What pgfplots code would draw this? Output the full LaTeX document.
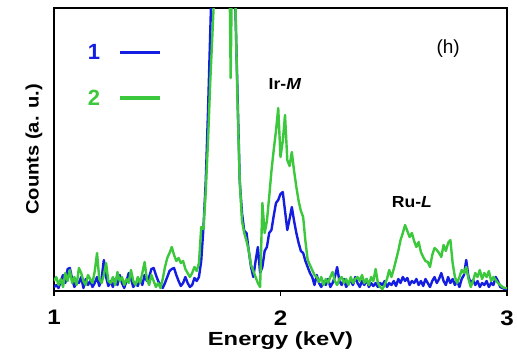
\documentclass[border=0pt]{standalone}
\usepackage{pgfplots}
\pgfplotsset{compat=1.18}
\usepackage{pgfplotstable}
\usepackage{fontspec}
\setmainfont{Liberation Sans}
\definecolor{cblue}{RGB}{20,30,225}
\definecolor{cgreen}{RGB}{60,200,60}
\pgfplotstableread{
x b g
1.00 4 10
1.01 6 14
1.02 3 6
1.03 10 12
1.04 16 4
1.05 8 18
1.06 22 10
1.07 23 21
1.08 12 8
1.09 4 14
1.10 10 6
1.11 8 23
1.12 14 18
1.13 3 10
1.14 12 6
1.15 6 16
1.16 10 12
1.17 4 8
1.18 8 20
1.19 14 38
1.20 5 12
1.21 12 8
1.22 31 16
1.23 14 28
1.24 5 10
1.25 10 8
1.26 4 14
1.27 12 6
1.28 6 19
1.29 16 10
1.30 8 14
1.31 3 6
1.32 10 12
1.33 18 8
1.34 12 21
1.35 4 10
1.36 8 6
1.37 5 14
1.38 12 8
1.39 6 18
1.40 16 29
1.41 10 12
1.42 14 6
1.43 22 16
1.44 23 10
1.45 16 4
1.46 10 8
1.47 6 3
1.48 3 12
1.49 8 24
1.50 14 33
1.51 20 38
1.52 22 44
1.53 23 36
1.54 16 30
1.55 10 33
1.56 5 28
1.57 8 30
1.58 14 22
1.59 8 18
1.60 4 14
1.61 6 18
1.62 13 24
1.63 10 20
1.64 14 28
1.65 30 64
1.66 64 62
1.67 110 100
1.68 180 150
1.69 260 210
1.70 340 260
1.71 450 310
1.72 560 380
1.73 640 450
1.74 680 500
1.75 660 520
1.76 600 480
1.77 500 420
1.78 420 213
1.79 340 400
1.80 290 300
1.81 200 190
1.82 110 110
1.83 78 70
1.84 60 58
1.85 58 50
1.86 40 40
1.87 24 26
1.88 14 20
1.89 30 14
1.90 44 8
1.91 18 4
1.92 24 88
1.93 40 58
1.94 44 70
1.95 58 94
1.96 61 120
1.97 75 141
1.98 88 160
1.99 91 183
2.00 97 134
2.01 99 150
2.02 80 176
2.03 61 131
2.04 72 125
2.05 84 139
2.06 70 120
2.07 58 104
2.08 48 90
2.09 40 80
2.10 38 74
2.11 30 50
2.12 24 31
2.13 18 26
2.14 14 21
2.15 6 16
2.16 16 14
2.17 8 9
2.18 4 14
2.19 10 6
2.20 6 12
2.21 12 8
2.22 4 14
2.23 8 19
2.24 14 10
2.25 24 6
2.26 10 12
2.27 6 14
2.28 12 8
2.29 4 12
2.30 8 6
2.31 10 14
2.32 6 8
2.33 14 12
2.34 8 14
2.35 4 10
2.36 10 16
2.37 6 8
2.38 12 12
2.39 4 6
2.40 8 14
2.41 5 10
2.42 8 22
2.43 4 8
2.44 8 4
2.45 6 2
2.46 10 6
2.47 4 12
2.48 8 21
2.49 6 14
2.50 10 22
2.51 5 31
2.52 12 40
2.53 8 51
2.54 14 58
2.55 10 66
2.56 13 60
2.57 6 54
2.58 10 58
2.59 8 50
2.60 12 44
2.61 6 49
2.62 10 39
2.63 5 34
2.64 12 30
2.65 8 29
2.66 4 24
2.67 10 36
2.68 14 43
2.69 8 41
2.70 12 38
2.71 18 34
2.72 10 46
2.73 6 40
2.74 14 48
2.75 8 51
2.76 12 28
2.77 6 14
2.78 10 8
2.79 4 14
2.80 12 21
2.81 16 18
2.82 31 24
2.83 14 12
2.84 8 4
2.85 11 10
2.86 6 18
2.87 10 14
2.88 4 21
2.89 8 12
2.90 6 18
2.91 10 14
2.92 4 20
2.93 8 10
2.94 6 14
2.95 14 11
2.96 10 8
2.97 4 6
2.98 3 4
2.99 2 3
3.00 2 3
}\spectra
\begin{document}
\begin{tikzpicture}
\begin{axis}[
  at={(0,0)}, anchor=south west,
  scale only axis, width=453pt, height=283pt,
  xmin=1, xmax=3, ymin=0, ymax=283,
  xtick={1,2,3}, ytick=\empty, xtick pos=bottom,
  tick align=outside, major tick length=5pt,
  every tick/.style={black, line width=1.8pt},
  axis line style={line width=2pt},
  /pgf/number format/assume math mode=true,
  xticklabel style={font=\fontsize{21}{22}\selectfont\bfseries, xscale=1.15, yshift=-11pt},
  xlabel={Energy (keV)},
  ylabel={Counts (a. u.)},
  xlabel style={font=\fontsize{19}{22}\selectfont\bfseries, xscale=1.25, yshift=1pt},
  ylabel style={font=\fontsize{18}{20}\selectfont\bfseries, xscale=1.12, yshift=3pt},
  legend style={draw=none, fill=none, at={(rel axis cs:0.07,0.88)}, anchor=north west,
    font=\fontsize{22}{22}\selectfont\bfseries, row sep=25pt, inner sep=0pt},
  legend plot pos=right,
  legend image code/.code={\path (0pt,0pt); \draw[#1, line width=3.6pt] (17pt,0pt) -- (57pt,0pt);},
  clip=true,
]
\addplot[cblue, line width=2.4pt, line join=round] table[x=x, y=b] {\spectra};
\addlegendentry{\textcolor{cblue}{1}}
\addplot[cgreen, line width=2.4pt, line join=round] table[x=x, y=g] {\spectra};
\addlegendentry{\textcolor{cgreen}{2}}
\node[font=\fontsize{16}{18}\selectfont\bfseries, xscale=1.1] at (axis cs:2.02,207) {Ir-\textit{M}};
\node[font=\fontsize{16}{18}\selectfont\bfseries, xscale=1.1] at (axis cs:2.58,89) {Ru-\textit{L}};
\node[font=\fontsize{19}{20}\selectfont] at (axis cs:2.74,242) {(h)};
\end{axis}
\pgfresetboundingbox
\path[use as bounding box] (-54pt,-66pt) rectangle (463pt,291pt);
\end{tikzpicture}
\end{document}
